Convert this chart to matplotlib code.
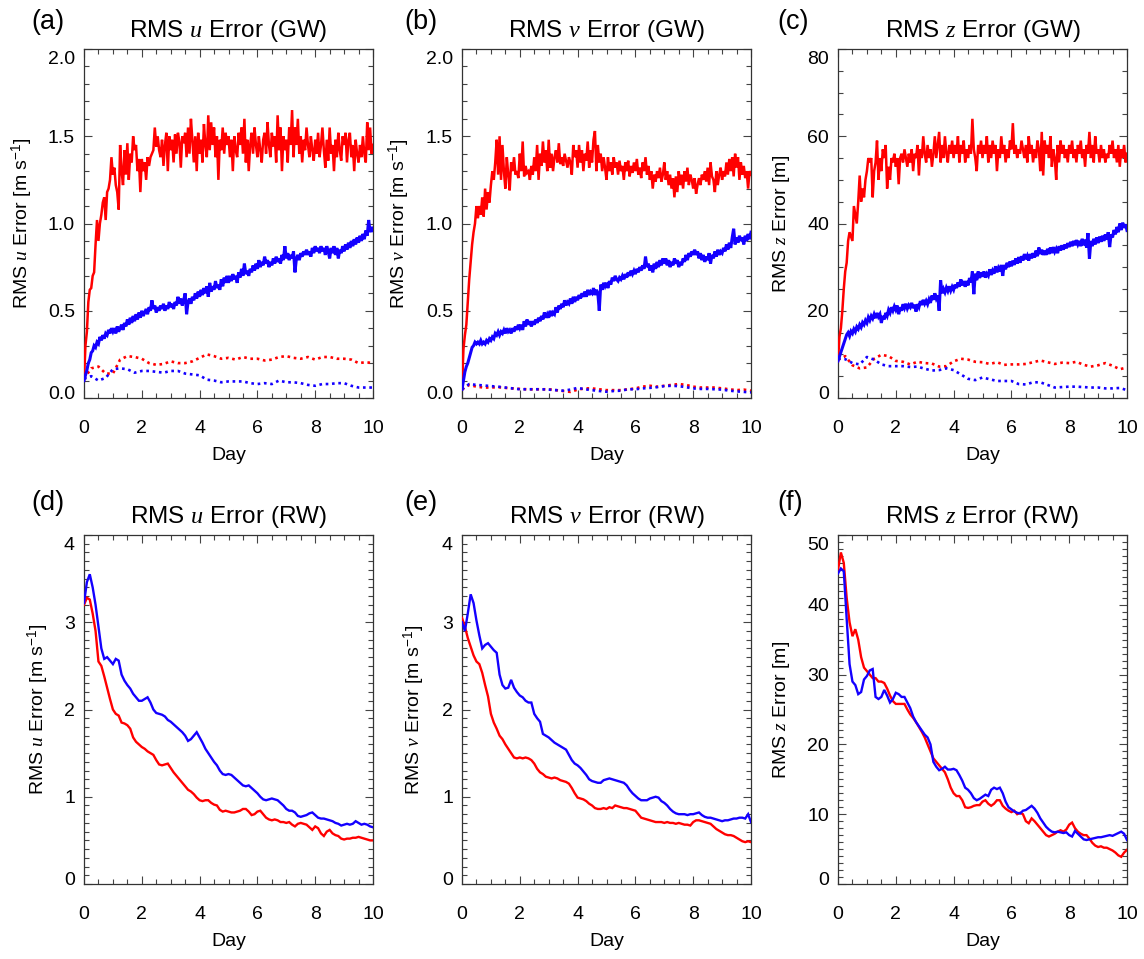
import numpy as np
import matplotlib
matplotlib.use("Agg")
import matplotlib.pyplot as plt
from matplotlib.ticker import MultipleLocator
from matplotlib.transforms import ScaledTranslation

plt.rcParams.update({
    "font.family": ["Liberation Sans", "DejaVu Sans"],
    "mathtext.fontset": "custom",
    "mathtext.rm": "Liberation Sans",
    "mathtext.it": "Liberation Serif:italic",
    "mathtext.bf": "Liberation Sans:bold",
})

# ---------------- data ----------------
# GW panels: solid series every 0.05 day, dotted every 0.25 day
red_u_gw = [0.10,0.30,0.38,0.55,0.62,0.63,0.70,0.72,0.88,1.02,
 0.90,1.00,1.05,1.12,1.15,1.02,1.18,1.20,1.25,1.38,
 1.28,1.32,1.22,1.18,1.08,1.45,1.30,1.22,1.42,1.28,
 1.46,1.25,1.40,1.35,1.50,1.42,1.45,1.30,1.37,1.18,
 1.37,1.30,1.35,1.25,1.38,1.33,1.38,1.40,1.42,1.55,
 1.44,1.50,1.42,1.38,1.48,1.33,1.45,1.52,1.30,1.50,
 1.42,1.48,1.35,1.51,1.40,1.52,1.47,1.32,1.50,1.46,
 1.52,1.38,1.55,1.40,1.60,1.48,1.35,1.50,1.30,1.52,
 1.40,1.48,1.35,1.57,1.45,1.38,1.62,1.42,1.58,1.45,
 1.55,1.38,1.50,1.25,1.48,1.42,1.55,1.40,1.52,1.45,
 1.50,1.38,1.48,1.30,1.50,1.42,1.38,1.52,1.45,1.55,
 1.40,1.60,1.35,1.48,1.30,1.45,1.52,1.40,1.55,1.45,
 1.38,1.50,1.42,1.35,1.48,1.52,1.40,1.58,1.45,1.38,
 1.52,1.44,1.50,1.35,1.62,1.42,1.55,1.30,1.50,1.42,
 1.48,1.35,1.55,1.45,1.65,1.38,1.55,1.45,1.60,1.40,
 1.50,1.35,1.48,1.42,1.55,1.45,1.38,1.50,1.42,1.36,
 1.48,1.40,1.52,1.38,1.45,1.55,1.42,1.32,1.48,1.36,
 1.55,1.40,1.45,1.30,1.48,1.38,1.52,1.42,1.36,1.50,
 1.45,1.52,1.35,1.48,1.52,1.38,1.45,1.30,1.48,1.40,
 1.35,1.45,1.38,1.50,1.40,1.35,1.58,1.42,1.55,1.40,
 1.45]
blue_u_gw = [0.10,0.13,0.16,0.20,0.22,0.26,0.27,0.30,0.29,0.32,
 0.31,0.35,0.33,0.36,0.34,0.37,0.36,0.39,0.37,0.40,
 0.38,0.40,0.37,0.41,0.38,0.40,0.42,0.39,0.43,0.41,
 0.45,0.42,0.46,0.43,0.47,0.44,0.48,0.45,0.49,0.46,
 0.50,0.47,0.49,0.51,0.48,0.52,0.50,0.56,0.51,0.53,
 0.49,0.52,0.50,0.53,0.51,0.54,0.50,0.53,0.51,0.55,
 0.52,0.54,0.51,0.55,0.53,0.58,0.54,0.57,0.53,0.56,
 0.60,0.48,0.55,0.57,0.54,0.58,0.56,0.60,0.57,0.61,
 0.58,0.62,0.59,0.63,0.60,0.64,0.58,0.66,0.61,0.64,
 0.62,0.67,0.63,0.65,0.62,0.68,0.64,0.69,0.66,0.70,
 0.66,0.70,0.67,0.71,0.68,0.70,0.66,0.72,0.69,0.74,
 0.70,0.77,0.71,0.73,0.70,0.74,0.72,0.76,0.73,0.77,
 0.74,0.79,0.75,0.78,0.76,0.81,0.77,0.79,0.75,0.78,
 0.76,0.80,0.77,0.81,0.78,0.80,0.77,0.82,0.79,0.87,
 0.80,0.83,0.79,0.82,0.80,0.84,0.72,0.80,0.82,0.79,
 0.83,0.81,0.84,0.82,0.85,0.82,0.84,0.81,0.86,0.83,
 0.87,0.84,0.86,0.83,0.87,0.84,0.86,0.82,0.87,0.84,
 0.80,0.86,0.83,0.87,0.82,0.86,0.80,0.85,0.83,0.87,
 0.84,0.88,0.85,0.89,0.86,0.90,0.87,0.91,0.88,0.92,
 0.89,0.93,0.90,0.94,0.91,0.96,0.93,1.02,0.95,0.98,
 0.96]
red_u_gw_dot = [0.11,0.17,0.18,0.14,0.14,0.22,0.24,0.235,0.225,0.20,
 0.19,0.195,0.21,0.20,0.20,0.21,0.23,0.25,0.24,0.225,
 0.23,0.22,0.235,0.225,0.225,0.215,0.22,0.235,0.24,0.23,
 0.225,0.235,0.22,0.235,0.235,0.225,0.225,0.22,0.20,0.205,0.20]
blue_u_gw_dot = [0.11,0.125,0.10,0.115,0.165,0.17,0.165,0.145,0.155,0.155,
 0.15,0.145,0.155,0.155,0.14,0.135,0.13,0.105,0.10,0.09,
 0.095,0.095,0.095,0.085,0.08,0.085,0.08,0.10,0.09,0.09,
 0.085,0.075,0.07,0.08,0.08,0.085,0.085,0.07,0.06,0.06,0.06]

red_v_gw = [0.05,0.28,0.36,0.42,0.55,0.68,0.78,0.88,0.95,1.00,
 1.10,1.03,1.10,1.05,1.15,1.04,1.20,1.08,1.18,1.12,
 1.22,1.30,1.25,1.35,1.48,1.28,1.50,1.25,1.45,1.30,
 1.20,1.38,1.28,1.19,1.35,1.30,1.38,1.28,1.30,1.26,
 1.40,1.30,1.47,1.27,1.33,1.29,1.30,1.25,1.33,1.28,
 1.38,1.30,1.45,1.25,1.40,1.33,1.47,1.35,1.42,1.30,
 1.48,1.32,1.40,1.30,1.38,1.42,1.35,1.46,1.34,1.38,
 1.33,1.40,1.36,1.32,1.38,1.35,1.28,1.45,1.38,1.42,
 1.32,1.45,1.35,1.42,1.30,1.40,1.36,1.47,1.32,1.42,
 1.35,1.48,1.53,1.30,1.45,1.35,1.40,1.30,1.38,1.32,
 1.25,1.38,1.30,1.35,1.28,1.38,1.32,1.35,1.28,1.36,
 1.30,1.33,1.25,1.35,1.30,1.36,1.27,1.33,1.29,1.35,
 1.30,1.37,1.28,1.32,1.26,1.35,1.30,1.38,1.28,1.33,
 1.25,1.30,1.20,1.28,1.24,1.30,1.26,1.32,1.24,1.28,
 1.35,1.25,1.30,1.22,1.28,1.20,1.26,1.15,1.27,1.18,
 1.30,1.22,1.28,1.20,1.30,1.24,1.32,1.22,1.28,1.25,
 1.20,1.26,1.17,1.22,1.26,1.22,1.28,1.25,1.30,1.24,
 1.32,1.22,1.35,1.27,1.25,1.18,1.30,1.22,1.28,1.32,
 1.25,1.30,1.27,1.35,1.28,1.37,1.30,1.38,1.27,1.40,
 1.32,1.38,1.25,1.35,1.28,1.33,1.26,1.30,1.20,1.30,
 1.28]
blue_v_gw = [0.05,0.10,0.15,0.18,0.20,0.23,0.26,0.29,0.30,0.32,
 0.31,0.32,0.31,0.33,0.31,0.32,0.31,0.33,0.32,0.34,
 0.33,0.35,0.34,0.37,0.36,0.38,0.36,0.38,0.37,0.39,
 0.37,0.40,0.38,0.39,0.37,0.40,0.38,0.41,0.39,0.42,
 0.40,0.42,0.39,0.44,0.41,0.45,0.42,0.44,0.41,0.44,
 0.42,0.45,0.43,0.46,0.44,0.47,0.45,0.49,0.46,0.48,
 0.46,0.50,0.47,0.49,0.48,0.52,0.49,0.53,0.51,0.54,
 0.52,0.56,0.53,0.55,0.54,0.57,0.54,0.58,0.55,0.58,
 0.56,0.59,0.57,0.60,0.58,0.61,0.58,0.62,0.59,0.61,
 0.60,0.63,0.59,0.62,0.60,0.50,0.65,0.62,0.66,0.64,
 0.66,0.63,0.67,0.65,0.69,0.67,0.70,0.68,0.67,0.69,
 0.68,0.70,0.68,0.71,0.69,0.72,0.70,0.73,0.71,0.73,
 0.71,0.74,0.72,0.75,0.73,0.76,0.74,0.81,0.75,0.77,
 0.73,0.76,0.72,0.77,0.74,0.78,0.75,0.79,0.76,0.80,
 0.77,0.80,0.76,0.79,0.75,0.78,0.76,0.80,0.77,0.79,
 0.75,0.78,0.76,0.80,0.78,0.82,0.79,0.83,0.81,0.84,
 0.82,0.85,0.82,0.84,0.80,0.83,0.79,0.82,0.78,0.81,
 0.79,0.83,0.77,0.82,0.80,0.84,0.81,0.85,0.82,0.84,
 0.83,0.86,0.84,0.88,0.85,0.89,0.86,0.92,0.97,0.88,
 0.92,0.89,0.93,0.90,0.92,0.88,0.93,0.90,0.94,0.91,
 0.95]
red_v_gw_dot = [0.05,0.075,0.065,0.06,0.06,0.062,0.058,0.055,0.052,0.05,
 0.05,0.05,0.05,0.045,0.04,0.035,0.048,0.055,0.055,0.05,
 0.045,0.045,0.045,0.05,0.055,0.065,0.07,0.065,0.07,0.075,
 0.08,0.075,0.065,0.06,0.06,0.06,0.055,0.05,0.045,0.048,0.042]
blue_v_gw_dot = [0.05,0.08,0.075,0.072,0.068,0.065,0.06,0.055,0.05,0.05,
 0.05,0.05,0.048,0.045,0.042,0.048,0.058,0.05,0.045,0.04,
 0.036,0.04,0.042,0.05,0.05,0.055,0.058,0.062,0.068,0.07,
 0.068,0.062,0.055,0.052,0.052,0.05,0.048,0.042,0.038,0.035,0.032]

red_z_gw = [8.5,14,16,20,25,29,31,36,38,37,
 36,44,42,40,45,51,45,48,46,50,
 52,55,54,55,46,52,54,59,50,55,
 52,57,55,58,48,53,50,55,54,56,
 53,55,49,55,56,54,57,55,53,56,
 54,57,52,56,55,58,51,57,55,60,
 56,54,58,55,57,53,56,60,55,58,
 61,54,58,55,60,56,54,58,56,59,
 55,58,56,60,54,58,56,59,54,57,
 55,58,56,64,57,55,52,58,56,59,
 55,58,56,60,54,58,55,59,56,58,
 52,57,55,60,56,58,54,57,55,59,
 57,63,56,58,55,57,56,59,57,55,
 58,54,60,56,58,54,57,55,59,57,
 52,61,51,59,56,58,55,60,53,57,
 55,50,58,54,59,56,58,55,57,54,
 58,56,59,55,57,54,58,56,59,55,
 57,53,58,56,61,55,58,54,60,56,
 57,54,58,55,57,54,56,55,58,56,
 59,55,57,54,58,53,57,55,58,54,
 56]
blue_z_gw = [8.5,9.5,10.5,11.5,12.5,13.5,14.5,15.0,14.2,15.3,
 14.8,15.8,15.2,16.3,15.8,16.8,16.2,17.3,16.8,17.8,
 17.2,18.5,17.8,18.8,18.2,19.2,18.3,19.5,18.6,19.2,
 17.2,18.8,18.0,19.5,18.8,20.2,19.5,20.8,20.0,21.0,
 20.2,21.2,19.2,20.8,20.0,21.5,20.6,21.6,20.5,21.3,
 20.8,21.8,20.6,21.4,19.8,21.5,20.8,22.2,21.3,22.5,
 21.6,22.3,21.5,22.6,21.8,23.5,22.5,24.0,22.8,23.5,
 20.0,27.0,24.0,25.0,24.2,25.3,24.5,25.6,24.6,25.5,
 24.8,26.0,25.2,26.5,25.5,27.2,25.8,26.8,25.5,26.8,
 25.8,27.5,26.5,29.0,23.8,28.5,27.0,29.0,27.5,28.8,
 27.8,29.0,27.6,28.5,28.0,29.5,28.2,29.2,28.5,30.2,
 28.8,29.8,29.0,30.5,28.0,30.5,29.5,31.0,30.0,31.3,
 30.2,31.5,30.5,32.0,30.8,32.3,31.0,32.5,31.5,33.0,
 31.8,32.6,31.5,33.0,32.0,33.2,32.2,33.8,32.5,34.5,
 33.0,34.0,32.8,33.8,32.8,34.2,33.0,34.5,33.2,34.6,
 33.5,34.2,33.2,34.8,33.8,35.0,34.0,35.2,34.3,35.5,
 34.6,35.8,34.8,36.0,35.0,36.2,35.2,36.0,34.8,36.5,
 35.0,36.3,34.5,37.8,31.9,36.0,34.8,36.5,35.2,36.8,
 35.5,37.0,35.8,37.2,36.0,37.5,36.3,38.0,34.6,37.5,
 36.8,38.5,37.5,39.2,38.0,40.0,38.5,40.2,39.0,39.8,
 38.4]
red_z_gw_dot = [8.8,9.6,7.5,6.8,7.0,9.0,9.9,9.6,8.5,8.3,
 7.7,8.3,8.0,7.9,7.2,7.3,8.4,9.0,8.8,8.3,
 8.2,7.8,8.2,7.6,7.7,7.7,7.8,8.2,8.6,8.2,
 7.8,8.1,8.0,8.3,7.6,7.2,7.5,8.0,7.4,6.6,7.0]
blue_z_gw_dot = [9.0,8.9,8.0,7.7,9.4,8.8,7.7,7.3,7.3,7.3,
 7.1,7.2,6.7,6.3,6.4,6.8,6.4,5.4,4.4,4.1,
 4.7,4.3,3.9,3.9,3.9,3.2,3.1,3.6,3.6,3.0,
 2.4,2.5,2.6,2.6,2.5,2.4,2.4,2.2,2.2,2.3,1.8]

# RW panels: every 0.1 day
red_u_rw = [3.20,3.28,3.26,3.10,2.90,2.55,2.50,2.38,2.25,2.12,
 2.00,1.95,1.93,1.85,1.84,1.82,1.78,1.68,1.63,1.60,
 1.57,1.55,1.52,1.50,1.48,1.42,1.37,1.36,1.37,1.38,
 1.33,1.28,1.24,1.20,1.16,1.12,1.08,1.06,1.03,0.99,
 0.96,0.95,0.96,0.96,0.93,0.91,0.90,0.85,0.83,0.84,
 0.83,0.82,0.82,0.83,0.84,0.86,0.86,0.83,0.79,0.80,
 0.83,0.84,0.80,0.76,0.74,0.73,0.74,0.73,0.71,0.71,
 0.70,0.71,0.68,0.66,0.69,0.70,0.69,0.68,0.65,0.62,
 0.66,0.64,0.58,0.55,0.60,0.62,0.58,0.56,0.55,0.52,
 0.51,0.52,0.52,0.53,0.53,0.54,0.53,0.52,0.51,0.50,0.50]
blue_u_rw = [3.22,3.46,3.55,3.40,3.20,2.95,2.70,2.58,2.60,2.56,
 2.52,2.58,2.56,2.40,2.33,2.28,2.24,2.18,2.14,2.10,
 2.10,2.12,2.14,2.08,2.00,1.96,1.95,1.94,1.92,1.88,
 1.86,1.83,1.80,1.77,1.74,1.70,1.64,1.66,1.70,1.74,
 1.68,1.62,1.55,1.50,1.45,1.40,1.36,1.30,1.26,1.25,
 1.26,1.25,1.22,1.19,1.16,1.13,1.12,1.13,1.10,1.07,
 1.04,1.00,0.97,0.96,0.97,0.98,0.97,0.96,0.93,0.90,
 0.86,0.84,0.84,0.82,0.78,0.77,0.78,0.79,0.81,0.82,
 0.79,0.76,0.75,0.75,0.74,0.73,0.72,0.70,0.69,0.67,
 0.68,0.69,0.68,0.69,0.72,0.70,0.68,0.69,0.68,0.66,0.65]
red_v_rw = [3.05,2.95,2.82,2.72,2.62,2.55,2.52,2.42,2.28,2.15,
 1.95,1.85,1.78,1.70,1.66,1.60,1.55,1.50,1.45,1.44,
 1.45,1.44,1.45,1.44,1.42,1.38,1.32,1.28,1.26,1.23,
 1.22,1.21,1.22,1.21,1.19,1.18,1.17,1.15,1.10,1.04,
 0.99,0.98,0.97,0.95,0.92,0.90,0.87,0.86,0.86,0.87,
 0.86,0.88,0.87,0.90,0.89,0.88,0.87,0.87,0.86,0.85,
 0.84,0.80,0.76,0.75,0.74,0.73,0.72,0.71,0.71,0.71,
 0.70,0.71,0.70,0.70,0.69,0.70,0.69,0.68,0.68,0.67,
 0.71,0.73,0.73,0.72,0.71,0.70,0.69,0.66,0.63,0.61,
 0.59,0.57,0.56,0.56,0.55,0.53,0.51,0.49,0.48,0.49,0.48]
blue_v_rw = [3.00,2.90,3.10,3.32,3.22,3.02,2.85,2.70,2.74,2.76,
 2.72,2.68,2.65,2.40,2.28,2.24,2.25,2.34,2.25,2.20,
 2.16,2.14,2.10,2.08,2.08,1.95,1.90,1.86,1.72,1.70,
 1.68,1.65,1.62,1.60,1.58,1.56,1.54,1.48,1.42,1.38,
 1.36,1.33,1.29,1.25,1.20,1.18,1.17,1.16,1.16,1.19,
 1.20,1.21,1.20,1.19,1.18,1.17,1.16,1.13,1.08,1.04,
 1.01,0.98,0.96,0.96,0.96,0.98,0.99,1.00,0.99,0.95,
 0.93,0.90,0.86,0.83,0.81,0.80,0.80,0.80,0.79,0.80,
 0.80,0.81,0.82,0.79,0.77,0.76,0.76,0.75,0.74,0.73,
 0.72,0.73,0.73,0.74,0.75,0.75,0.76,0.76,0.75,0.80,0.71]
red_z_rw = [45.0,47.5,46.0,41.0,37.5,35.5,36.5,35.0,32.5,31.0,
 30.5,30.0,29.5,29.5,29.0,29.0,28.8,28.0,27.0,26.2,
 25.8,25.8,25.8,25.8,25.0,24.3,23.8,23.2,22.5,21.8,
 21.0,20.0,19.0,18.0,17.5,17.0,16.5,16.0,15.0,13.8,
 13.0,12.6,12.6,12.0,11.0,10.9,11.0,11.2,11.3,11.3,
 11.8,12.0,11.5,11.2,11.5,12.0,12.0,11.2,10.8,10.5,
 10.3,10.5,10.0,10.2,10.0,9.0,8.7,9.4,9.0,8.5,
 8.0,7.5,7.0,6.8,7.0,7.2,7.5,7.7,7.5,7.8,
 8.5,8.8,8.0,7.5,7.2,7.0,7.0,6.5,5.9,5.5,
 5.3,5.4,5.2,5.2,5.0,4.8,4.5,4.1,3.9,4.5,4.9]
blue_z_rw = [44.5,45.2,44.8,38.0,31.5,29.0,28.5,27.2,27.5,29.3,
 29.8,30.6,30.8,26.8,26.5,26.8,27.8,27.0,26.0,26.5,
 27.4,27.2,26.8,26.8,26.0,25.2,24.0,23.2,22.6,22.0,
 21.4,21.0,20.0,17.5,16.8,16.3,16.5,16.8,16.4,16.4,
 16.5,16.3,15.6,14.8,13.8,13.5,13.0,12.3,12.0,12.2,
 12.5,12.8,12.6,13.5,13.8,13.6,13.8,13.0,11.8,11.0,
 10.7,10.4,10.2,10.1,10.5,10.6,10.9,11.2,10.8,10.2,
 9.4,8.8,8.2,7.8,7.5,7.4,7.5,7.4,7.3,7.4,
 7.0,6.8,7.6,7.2,6.8,6.4,6.3,6.4,6.5,6.6,
 6.7,6.7,6.8,6.9,7.0,6.9,7.1,7.3,7.5,7.2,6.3]

panel_letters = ["(a)", "(b)", "(c)", "(d)", "(e)", "(f)"]
titles = [r"RMS $u$ Error (GW)", r"RMS $v$ Error (GW)", r"RMS $z$ Error (GW)",
          r"RMS $u$ Error (RW)", r"RMS $v$ Error (RW)", r"RMS $z$ Error (RW)"]
ylabels = [r"RMS $u$ Error [m s$^{-1}$]", r"RMS $v$ Error [m s$^{-1}$]", r"RMS $z$ Error [m]",
           r"RMS $u$ Error [m s$^{-1}$]", r"RMS $v$ Error [m s$^{-1}$]", r"RMS $z$ Error [m]"]
ylims = [(0, 2.0), (0, 2.0), (0, 80), (0, 4), (0, 4), (0, 50)]
ymajor = [0.5, 0.5, 20, 1, 1, 10]
yminor = [0.1, 0.1, 5, 0.1, 0.1, 1]
yfmt = ["%.1f", "%.1f", "%d", "%d", "%d", "%d"]
xlabel = "Day"

solid_red = [red_u_gw, red_v_gw, red_z_gw, red_u_rw, red_v_rw, red_z_rw]
solid_blue = [blue_u_gw, blue_v_gw, blue_z_gw, blue_u_rw, blue_v_rw, blue_z_rw]
dot_red = [red_u_gw_dot, red_v_gw_dot, red_z_gw_dot, None, None, None]
dot_blue = [blue_u_gw_dot, blue_v_gw_dot, blue_z_gw_dot, None, None, None]

# ---------------- layout ----------------
W, H = 1144, 959
fig = plt.figure(figsize=(W / 100, H / 100), dpi=100)
lefts = [84, 462, 838]
tops = [49, 535]
aw, ah = 289, 349
ylab_off = [62, 63, 56, 46, 48, 56]
letter_x = [31, 404, 777]
letter_y = [22, 503]
RED = "#ff0000"
BLUE = "#1400ff"

for i in range(6):
    r, c = divmod(i, 3)
    ax = fig.add_axes([lefts[c] / W, (H - tops[r] - ah) / H, aw / W, ah / H])
    yr = np.array(solid_red[i], dtype=float)
    yb = np.array(solid_blue[i], dtype=float)
    top_row = r == 0
    ax.plot(np.linspace(0, 10, len(yr)), yr, color=RED, lw=1.8 if top_row else 1.7,
            solid_joinstyle="miter", zorder=3)
    ax.plot(np.linspace(0, 10, len(yb)), yb, color=BLUE, lw=2.2 if top_row else 1.7,
            solid_joinstyle="miter", zorder=4)
    if dot_red[i] is not None:
        dr = np.array(dot_red[i], dtype=float)
        db = np.array(dot_blue[i], dtype=float)
        ax.plot(np.linspace(0, 10, len(dr)), dr, color=RED, lw=1.9, ls=(0, (1, 1.4)), zorder=2)
        ax.plot(np.linspace(0, 10, len(db)), db, color=BLUE, lw=1.9, ls=(0, (1, 1.4)), zorder=2)
    ax.set_xlim(0, 10)
    ax.set_ylim(*ylims[i])
    ax.xaxis.set_major_locator(MultipleLocator(2))
    ax.xaxis.set_minor_locator(MultipleLocator(0.5))
    ax.yaxis.set_major_locator(MultipleLocator(ymajor[i]))
    ax.yaxis.set_minor_locator(MultipleLocator(yminor[i]))
    ax.yaxis.set_major_formatter(matplotlib.ticker.FormatStrFormatter(yfmt[i]))
    ax.tick_params(which="both", direction="in", top=True, right=True, width=0.8, color="#444444")
    ax.tick_params(which="major", length=6)
    ax.tick_params(which="minor", length=3.5)
    ax.tick_params(axis="x", which="major", pad=16, labelsize=14)
    ax.tick_params(axis="y", which="major", pad=6.5, labelsize=14)
    for s in ax.spines.values():
        s.set_linewidth(0.9)
        s.set_color("#333333")
    ax.set_title(titles[i], fontsize=17.5, pad=9)
    ax.set_xlabel(xlabel, fontsize=14)
    ax.xaxis.set_label_coords(0.5, -57 / ah)
    ax.xaxis.label.set_va("center")
    ax.set_ylabel(ylabels[i], fontsize=14)
    ax.yaxis.set_label_coords(-ylab_off[i] / aw, 0.5)
    ax.yaxis.label.set_va("center")
    # IDL-style: keep the extreme y tick labels inside the axis range
    fig.canvas.draw()
    yt = ax.yaxis.get_major_ticks()
    vis = [t for t in yt if ylims[i][0] - 1e-9 <= t.get_loc() <= ylims[i][1] + 1e-9]
    if vis:
        top_lab = max(vis, key=lambda t: t.get_loc()).label1
        bot_lab = min(vis, key=lambda t: t.get_loc()).label1
        top_lab.set_transform(top_lab.get_transform() + ScaledTranslation(0, -0.09, fig.dpi_scale_trans))
        bot_lab.set_transform(bot_lab.get_transform() + ScaledTranslation(0, 0.055, fig.dpi_scale_trans))
    fig.text(letter_x[c] / W, 1 - letter_y[r] / H, panel_letters[i], fontsize=19.5,
             ha="left", va="center")

fig.savefig("out.png", dpi=100)
